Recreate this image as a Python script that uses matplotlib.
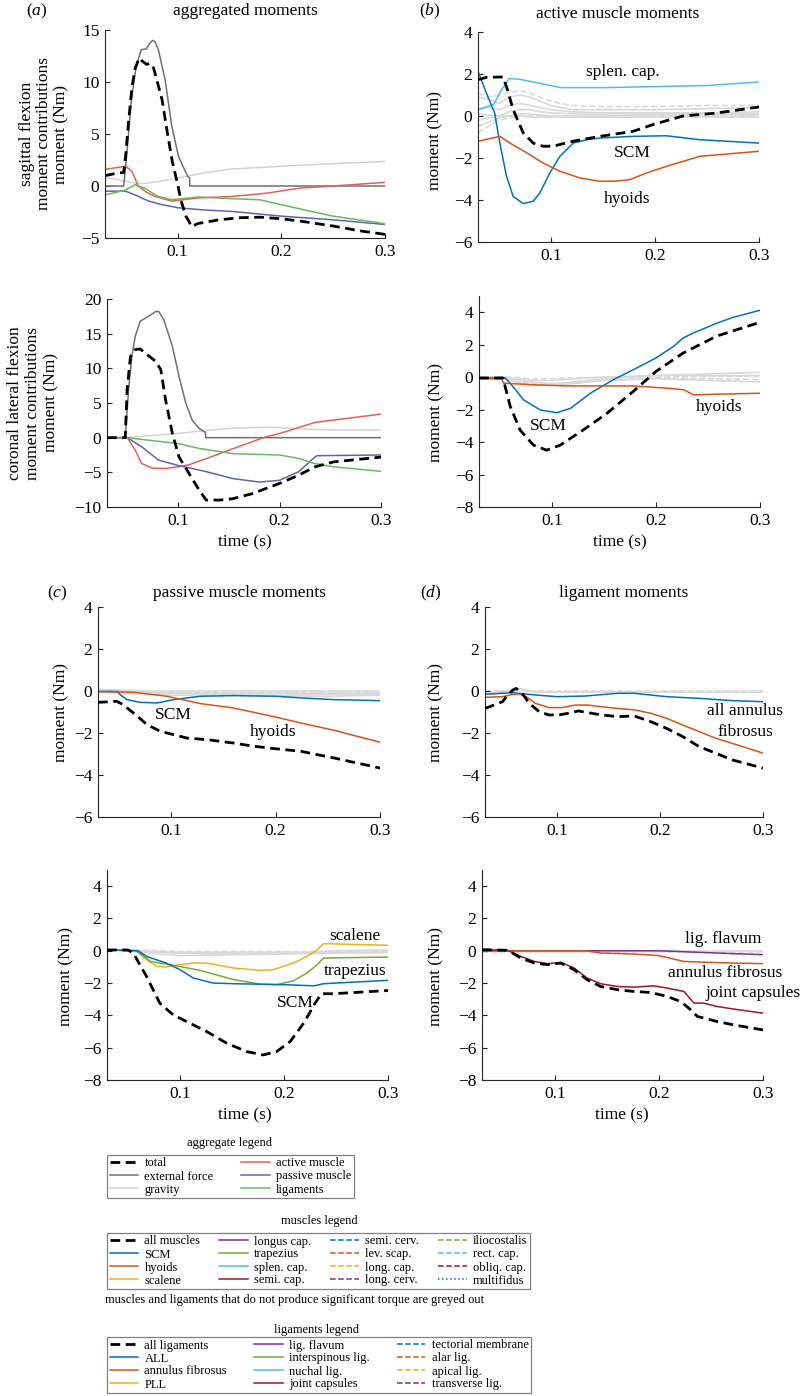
import matplotlib
matplotlib.use('Agg')
import matplotlib.pyplot as plt
from matplotlib.lines import Line2D

plt.rcParams['font.family'] = ['Liberation Serif', 'DejaVu Serif']
plt.rcParams['mathtext.fontset'] = 'custom'
plt.rcParams['mathtext.it'] = 'Liberation Serif:italic'
plt.rcParams['mathtext.rm'] = 'Liberation Serif'

W, H = 800, 1396
T0, T1 = 0.03, 0.3
FS = 12.5
LFS = 9

# colours
C_EXT = '#707070'
C_GRAV = '#d4d4d4'
C_ACT = '#e0625a'
C_PAS = '#6064b0'
C_LIG = '#66bb5f'
C_GREY = '#d9d9d9'
C_SCM = '#0072bd'
C_HYO = '#d95319'
C_SCA = '#edb120'
C_LON = '#7e2f8e'
C_TRA = '#77ac30'
C_SPL = '#4dbeee'
C_SEM = '#a2142f'

# ---- (a) aggregated, sagittal
sag_total_t = [0.03, 0.04, 0.048, 0.050, 0.053, 0.056, 0.059, 0.063, 0.066, 0.070, 0.074, 0.077,
               0.085, 0.090, 0.095, 0.100, 0.103, 0.108, 0.111, 0.113, 0.120, 0.140, 0.160, 0.180,
               0.200, 0.220, 0.250, 0.275, 0.300]
sag_total_v = [1.0, 1.2, 1.3, 3.0, 6.5, 9.5, 11.3, 12.3, 12.0, 11.7, 11.8, 11.3,
               8.3, 5.2, 2.3, 0.2, -1.3, -2.9, -3.4, -3.9, -3.6, -3.25, -3.05, -3.0,
               -3.15, -3.4, -3.85, -4.3, -4.65]
sag_ext_t = [0.03, 0.048, 0.0505, 0.0555, 0.060, 0.065, 0.070, 0.073, 0.0757, 0.078, 0.0815,
             0.088, 0.0945, 0.101, 0.1075, 0.110, 0.1115, 0.1118, 0.3]
sag_ext_v = [0, 0, 2.5, 8.3, 11.5, 13.1, 13.2, 13.7, 14.0, 13.9, 13.1,
             10.2, 5.7, 2.8, 1.4, 0.9, 0.8, 0, 0]
sag_grav_t = [0.03, 0.045, 0.055, 0.065, 0.08, 0.1, 0.125, 0.15, 0.2, 0.25, 0.3]
sag_grav_v = [0.8, 0.55, 0.35, 0.22, 0.4, 0.76, 1.25, 1.62, 1.9, 2.15, 2.36]
sag_act_t = [0.03, 0.04, 0.05, 0.056, 0.062, 0.07, 0.078, 0.0945, 0.12, 0.153, 0.185, 0.218, 0.25, 0.3]
sag_act_v = [1.6, 1.75, 1.9, 1.4, 0.0, -0.6, -1.0, -1.45, -1.15, -1.0, -0.7, -0.2, 0.0, 0.35]
sag_pas_t = [0.03, 0.05, 0.06, 0.072, 0.085, 0.101, 0.125, 0.153, 0.2, 0.25, 0.3]
sag_pas_v = [-0.5, -0.5, -0.9, -1.45, -1.8, -2.1, -2.3, -2.45, -2.9, -3.25, -3.7]
sag_lig_t = [0.03, 0.049, 0.059, 0.068, 0.081, 0.0945, 0.12, 0.153, 0.179, 0.2, 0.218, 0.25, 0.3]
sag_lig_v = [-0.85, -0.42, 0.12, -0.2, -1.0, -1.32, -1.06, -1.22, -1.32, -1.8, -2.2, -2.9, -3.62]

# ---- (a) aggregated, coronal
cor_ext_t = [0.03, 0.048, 0.0512, 0.0545, 0.0578, 0.0627, 0.068, 0.073, 0.078, 0.081, 0.086,
             0.0944, 0.101, 0.1076, 0.114, 0.1208, 0.1257, 0.127, 0.1272, 0.3]
cor_ext_v = [0, 0, 6.9, 11.7, 14.6, 16.8, 17.25, 17.7, 18.2, 18.2, 17.0,
             13.2, 8.8, 5.0, 2.5, 1.33, 0.85, 0.8, 0, 0]
cor_total_t = [0.03, 0.048, 0.0498, 0.0531, 0.0578, 0.0627, 0.0677, 0.078, 0.083, 0.0878, 0.0944,
               0.101, 0.111, 0.121, 0.1277, 0.141, 0.154, 0.1726, 0.2, 0.219, 0.235, 0.253, 0.3]
cor_total_v = [0, 0, 6.9, 11.7, 12.7, 12.8, 12.2, 11.0, 9.8, 5.4, 0.6,
               -2.8, -5.2, -7.6, -9.0, -9.0, -8.8, -8.1, -6.6, -5.4, -4.2, -3.5, -2.8]
cor_grav_t = [0.03, 0.048, 0.07, 0.1, 0.125, 0.15, 0.185, 0.2, 0.23, 0.26, 0.3]
cor_grav_v = [0, 0, 0.25, 0.6, 1.0, 1.33, 1.5, 1.45, 1.2, 1.1, 1.1]
cor_act_t = [0.03, 0.05, 0.0578, 0.064, 0.0746, 0.0878, 0.1, 0.111, 0.13, 0.154, 0.186, 0.2, 0.235, 0.3]
cor_act_v = [0, 0, -1.8, -3.7, -4.4, -4.45, -4.2, -3.9, -2.9, -1.6, 0.1, 0.6, 2.2, 3.4]
cor_pas_t = [0.03, 0.05, 0.064, 0.081, 0.1, 0.1277, 0.154, 0.18, 0.2, 0.219, 0.234, 0.237, 0.3]
cor_pas_v = [0, 0, -1.3, -3.25, -4.0, -4.9, -5.9, -6.4, -6.15, -4.9, -2.9, -2.6, -2.5]
cor_lig_t = [0.03, 0.05, 0.07, 0.1, 0.121, 0.154, 0.2, 0.219, 0.234, 0.253, 0.3]
cor_lig_v = [0, 0, -0.35, -0.84, -1.56, -2.3, -2.5, -3.0, -3.7, -4.2, -4.85]

# ---- (b) active muscles, sagittal
bs_total_t = [0.03, 0.038, 0.054, 0.058, 0.0638, 0.0734, 0.083, 0.0926, 0.102, 0.1215, 0.147,
              0.179, 0.198, 0.227, 0.259, 0.3]
bs_total_v = [1.73, 1.84, 1.86, 1.3, 0.3, -0.8, -1.29, -1.44, -1.44, -1.2, -0.97,
              -0.73, -0.41, 0.0, 0.14, 0.43]
bs_scm_t = [0.03, 0.038, 0.046, 0.051, 0.0574, 0.0638, 0.0734, 0.083, 0.0894, 0.099, 0.1087,
            0.1215, 0.1343, 0.147, 0.179, 0.211, 0.243, 0.3]
bs_scm_v = [2.13, 1.1, 0.14, -1.29, -2.87, -3.83, -4.17, -4.06, -3.67, -2.71, -1.92,
            -1.29, -1.13, -1.05, -0.97, -0.94, -1.13, -1.29]
bs_spl_t = [0.03, 0.045, 0.052, 0.06, 0.07, 0.09, 0.11, 0.15, 0.2, 0.25, 0.3]
bs_spl_v = [0.3, 0.55, 1.2, 1.78, 1.75, 1.55, 1.35, 1.35, 1.4, 1.45, 1.62]
bs_hyo_t = [0.03, 0.051, 0.061, 0.077, 0.0926, 0.1087, 0.128, 0.147, 0.163, 0.176, 0.192, 0.211, 0.243, 0.3]
bs_hyo_v = [-1.2, -0.97, -1.3, -1.76, -2.24, -2.63, -2.95, -3.11, -3.1, -3.03, -2.71, -2.4, -1.92, -1.68]
bs_grey_t = [0.03, 0.04, 0.05, 0.06, 0.07, 0.08, 0.09, 0.1, 0.12, 0.15, 0.2, 0.25, 0.3]
bs_grey_v = [
    [1.1, 0.9, 1.0, 1.1, 1.2, 1.1, 0.9, 0.7, 0.5, 0.45, 0.45, 0.5, 0.5],
    [0.9, 0.8, 0.6, 0.9, 1.0, 0.9, 0.7, 0.5, 0.3, 0.3, 0.3, 0.35, 0.4],
    [0.3, 0.4, 0.3, 0.5, 0.6, 0.5, 0.4, 0.3, 0.2, 0.15, 0.15, 0.15, 0.2],
    [-0.2, -0.1, 0.0, 0.2, 0.3, 0.3, 0.2, 0.15, 0.1, 0.1, 0.1, 0.1, 0.1],
    [-0.5, -0.3, -0.1, 0.0, 0.1, 0.1, 0.05, 0.0, 0.0, 0.0, 0.05, 0.05, 0.05],
    [-0.8, -0.5, -0.2, -0.1, 0.0, 0.0, 0.0, 0.0, -0.05, -0.05, 0.0, 0.0, 0.0],
    [0.1, 0.05, 0.0, 0.0, 0.0, -0.05, -0.05, -0.05, -0.05, -0.05, -0.05, -0.05, -0.05],
]
bs_grey_dash = [True, False, False, False, False, True, False]

# ---- (b) active muscles, coronal
bc_total_t = [0.03, 0.053, 0.06, 0.0695, 0.0824, 0.095, 0.108, 0.13, 0.153, 0.178, 0.2, 0.226, 0.258, 0.3]
bc_total_v = [-0.05, -0.05, -1.8, -3.26, -4.19, -4.5, -4.19, -3.26, -2.23, -0.89, 0.35, 1.48, 2.52, 3.38]
bc_scm_t = [0.03, 0.055, 0.06, 0.0728, 0.0888, 0.105, 0.118, 0.137, 0.159, 0.178, 0.2, 0.217,
            0.226, 0.236, 0.259, 0.275, 0.3]
bc_scm_v = [-0.05, -0.05, -0.37, -1.4, -2.02, -2.19, -1.92, -0.99, -0.16, 0.45, 1.18, 1.9,
            2.41, 2.72, 3.34, 3.7, 4.12]
bc_hyo_t = [0.03, 0.052, 0.0535, 0.0824, 0.114, 0.178, 0.211, 0.227, 0.236, 0.259, 0.3]
bc_hyo_v = [-0.1, -0.1, -0.37, -0.47, -0.54, -0.54, -0.68, -0.78, -1.09, -1.05, -0.99]
bc_grey_t = [0.03, 0.05, 0.06, 0.08, 0.1, 0.12, 0.15, 0.2, 0.25, 0.3]
bc_grey_v = [
    [0, 0, -0.2, -0.5, -0.5, -0.4, -0.2, -0.1, -0.2, -0.3],
    [0, 0, -0.1, -0.3, -0.4, -0.3, -0.1, 0.1, 0.2, 0.3],
    [0, 0, -0.05, -0.2, -0.2, -0.1, 0.0, 0.1, 0.1, 0.1],
    [0, 0, 0, -0.1, -0.1, -0.05, 0.0, 0.0, 0.05, 0.05],
    [0, 0, -0.1, -0.4, -0.45, -0.35, -0.2, -0.05, -0.1, -0.15],
]
bc_grey_dash = [False, False, False, True, True]

# ---- (c) passive muscles, sagittal
cs_total_t = [0.03, 0.048, 0.054, 0.064, 0.077, 0.0897, 0.1026, 0.115, 0.135, 0.16, 0.179, 0.2,
              0.224, 0.256, 0.3]
cs_total_v = [-0.54, -0.49, -0.65, -1.05, -1.6, -1.92, -2.08, -2.24, -2.32, -2.48, -2.63, -2.75,
              -2.87, -3.19, -3.67]
cs_scm_t = [0.03, 0.049, 0.051, 0.0577, 0.0705, 0.0865, 0.1026, 0.128, 0.16, 0.2, 0.224, 0.256, 0.3]
cs_scm_v = [-0.02, -0.02, -0.17, -0.41, -0.54, -0.57, -0.41, -0.25, -0.22, -0.25, -0.33, -0.41, -0.46]
cs_hyo_t = [0.03, 0.064, 0.096, 0.128, 0.16, 0.2, 0.224, 0.256, 0.3]
cs_hyo_v = [-0.03, -0.06, -0.25, -0.6, -0.81, -1.24, -1.52, -1.87, -2.44]
cs_grey_t = [0.03, 0.05, 0.08, 0.1, 0.15, 0.2, 0.25, 0.3]
cs_grey_v = [
    [0.05, 0.05, 0.0, 0.0, 0.0, 0.0, 0.0, 0.0],
    [0.0, 0.0, -0.1, -0.1, -0.1, -0.1, -0.1, -0.1],
    [-0.05, -0.1, -0.15, -0.2, -0.2, -0.2, -0.15, -0.15],
    [0.0, -0.05, -0.05, -0.05, -0.05, -0.05, -0.05, -0.05],
    [0.1, 0.0, -0.05, -0.1, -0.15, -0.25, -0.25, -0.2],
]
cs_grey_dash = [False, False, False, True, False]

# ---- (c) passive muscles, coronal
cc_total_t = [0.03, 0.05, 0.0552, 0.068, 0.0807, 0.0936, 0.1064, 0.1257, 0.145, 0.164, 0.18,
              0.193, 0.206, 0.219, 0.23, 0.236, 0.2475, 0.3]
cc_total_v = [0.05, 0.05, -0.14, -1.59, -3.24, -3.97, -4.38, -5.0, -5.72, -6.24, -6.45,
              -6.24, -5.62, -4.48, -3.24, -2.66, -2.66, -2.46]
cc_scm_t = [0.03, 0.06, 0.068, 0.087, 0.1, 0.113, 0.132, 0.152, 0.2, 0.229, 0.238, 0.3]
cc_scm_v = [0.05, 0.0, -0.35, -0.76, -1.17, -1.69, -2.0, -2.04, -2.1, -2.17, -2.04, -1.83]
cc_sca_t = [0.03, 0.058, 0.068, 0.078, 0.087, 0.1, 0.113, 0.1257, 0.152, 0.177, 0.19, 0.209,
            0.222, 0.232, 0.238, 0.3]
cc_sca_v = [0.05, 0.0, -0.56, -0.97, -1.0, -0.86, -0.76, -0.76, -1.07, -1.21, -1.17, -0.76,
            -0.35, 0.06, 0.44, 0.34]
cc_tra_t = [0.03, 0.058, 0.072, 0.1, 0.119, 0.152, 0.177, 0.193, 0.209, 0.222, 0.232, 0.238, 0.3]
cc_tra_v = [0.05, 0.0, -0.66, -0.97, -1.21, -1.79, -2.06, -2.1, -1.86, -1.38, -0.86, -0.45, -0.39]
cc_grey_t = [0.03, 0.05, 0.08, 0.1, 0.15, 0.2, 0.25, 0.3]
cc_grey_v = [
    [0.05, 0.05, -0.05, -0.1, -0.1, -0.1, -0.1, -0.1],
    [0.05, 0.05, -0.2, -0.3, -0.25, -0.2, -0.15, -0.1],
    [0.05, 0.05, -0.1, -0.15, -0.2, -0.2, 0.0, 0.05],
    [0.05, 0.05, 0.0, -0.05, -0.05, -0.05, -0.05, -0.05],
]
cc_grey_dash = [False, False, False, True]

# ---- (d) ligaments, sagittal
ds_total_t = [0.03, 0.047, 0.052, 0.057, 0.06, 0.065, 0.073, 0.0825, 0.092, 0.1016, 0.111, 0.1207,
              0.13, 0.143, 0.159, 0.175, 0.191, 0.2064, 0.222, 0.238, 0.254, 0.27, 0.3]
ds_total_v = [-0.83, -0.51, -0.19, 0.04, 0.12, -0.03, -0.59, -0.98, -1.14, -1.14, -1.06, -0.95,
              -1.03, -1.14, -1.22, -1.19, -1.46, -1.78, -2.17, -2.65, -2.96, -3.28, -3.67]
ds_ann_t = [0.03, 0.047, 0.057, 0.063, 0.07, 0.079, 0.092, 0.105, 0.1175, 0.13, 0.143, 0.159,
            0.175, 0.191, 0.2064, 0.222, 0.238, 0.254, 0.27, 0.3]
ds_ann_v = [-0.3, -0.27, -0.16, -0.14, -0.27, -0.59, -0.79, -0.79, -0.67, -0.67, -0.75, -0.83,
            -0.9, -1.06, -1.3, -1.62, -1.93, -2.25, -2.49, -2.96]
ds_all_t = [0.03, 0.057, 0.079, 0.1, 0.127, 0.159, 0.175, 0.2064, 0.238, 0.27, 0.3]
ds_all_v = [-0.16, -0.08, -0.19, -0.27, -0.24, -0.11, -0.11, -0.27, -0.35, -0.46, -0.51]
ds_grey_t = [0.03, 0.05, 0.06, 0.065, 0.07, 0.08, 0.1, 0.2, 0.3]
ds_grey_v = [
    [-0.05, 0.0, 0.15, 0.1, 0.0, -0.05, -0.05, -0.05, -0.05],
    [-0.1, -0.05, 0.05, 0.1, 0.05, -0.05, -0.05, -0.05, -0.05],
    [0.0, 0.0, 0.05, 0.05, 0.0, 0.0, 0.0, 0.0, 0.0],
]
ds_grey_dash = [False, False, True]

# ---- (d) ligaments, coronal
dc_total_t = [0.03, 0.0546, 0.0674, 0.0802, 0.093, 0.1058, 0.1185, 0.131, 0.144, 0.16, 0.176,
              0.192, 0.208, 0.221, 0.2306, 0.237, 0.256, 0.272, 0.3]
dc_total_v = [0.07, 0.03, -0.45, -0.76, -0.86, -0.76, -1.17, -1.79, -2.21, -2.41, -2.52,
              -2.58, -2.83, -3.14, -3.66, -4.07, -4.38, -4.59, -4.9]
dc_jc_t = [0.03, 0.0546, 0.0674, 0.0802, 0.093, 0.1058, 0.1185, 0.131, 0.144, 0.16, 0.176,
           0.195, 0.208, 0.224, 0.2336, 0.243, 0.256, 0.272, 0.3]
dc_jc_v = [0.07, 0.03, -0.35, -0.66, -0.8, -0.72, -1.07, -1.69, -2.04, -2.21, -2.25,
           -2.17, -2.31, -2.52, -3.24, -3.24, -3.45, -3.61, -3.86]
dc_ann_t = [0.03, 0.13, 0.144, 0.176, 0.2, 0.214, 0.224, 0.24, 0.272, 0.3]
dc_ann_v = [0, 0, -0.14, -0.2, -0.3, -0.51, -0.66, -0.7, -0.76, -0.8]
dc_flav_t = [0.03, 0.2, 0.24, 0.272, 0.3]
dc_flav_v = [0, 0, -0.1, -0.18, -0.24]
dc_grey_t = [0.03, 0.1, 0.2, 0.3]
dc_grey_v = [[0, 0, 0, 0], [-0.05, -0.05, -0.05, -0.05]]
dc_grey_dash = [False, True]

# legends
agg_labels = ['total', 'external force', 'gravity', 'active muscle', 'passive muscle', 'ligaments']
mus_labels = ['all muscles', 'SCM', 'hyoids', 'scalene',
              'longus cap.', 'trapezius', 'splen. cap.', 'semi. cap.',
              'semi. cerv.', 'lev. scap.', 'long. cap.', 'long. cerv.',
              'iliocostalis', 'rect. cap.', 'obliq. cap.', 'multifidus']
lig_labels = ['all ligaments', 'ALL', 'annulus fibrosus', 'PLL',
              'lig. flavum', 'interspinous lig.', 'nuchal lig.', 'joint capsules',
              'tectorial membrane', 'alar lig.', 'apical lig.', 'transverse lig.']


fig = plt.figure(figsize=(W / 100, H / 100), dpi=100)


def px_axes(l, r, t, b):
    return fig.add_axes([l / W, 1 - b / H, (r - l) / W, (b - t) / H])


def ftext(x, y, s, **kw):
    kw.setdefault('fontsize', FS)
    kw.setdefault('ha', 'center')
    kw.setdefault('va', 'center')
    fig.text(x / W, 1 - y / H, s, **kw)


def style(ax, ylim, yticks):
    ax.set_xlim(T0, T1)
    ax.set_ylim(*ylim)
    ax.set_xticks([0.1, 0.2, 0.3])
    ax.set_yticks(yticks)
    for s in ['top', 'right']:
        ax.spines[s].set_visible(False)
    for s in ['left', 'bottom']:
        ax.spines[s].set_color('#262626')
        ax.spines[s].set_linewidth(0.8)
    ax.tick_params(direction='in', length=3.5, width=0.8, labelsize=FS, color='#262626', pad=4)


def total(ax, t, v):
    ax.plot(t, v, color='black', lw=2.0, ls=(0, (3.5, 2)), zorder=5)


def greys(ax, t, vs, dashes):
    for v, d in zip(vs, dashes):
        ax.plot(t, v, color=C_GREY, lw=1.2, ls='--' if d else '-', zorder=1)


# (a) top
ax = px_axes(105, 385, 30, 238)
ax.plot(sag_grav_t, sag_grav_v, color=C_GRAV, lw=1.1)
ax.plot(sag_ext_t, sag_ext_v, color=C_EXT, lw=1.1)
ax.plot(sag_act_t, sag_act_v, color=C_ACT, lw=1.1)
ax.plot(sag_pas_t, sag_pas_v, color=C_PAS, lw=1.1)
ax.plot(sag_lig_t, sag_lig_v, color=C_LIG, lw=1.1)
total(ax, sag_total_t, sag_total_v)
style(ax, (-5, 15), [-5, 0, 5, 10, 15])
ftext(44, 134, 'sagittal flexion\nmoment contributions\nmoment (Nm)', rotation=90, linespacing=1.1)
ftext(245, 11, 'aggregated moments')
ftext(37, 11, r'($\mathit{a}$)')

# (a) bottom
ax = px_axes(107, 381, 299, 507)
ax.plot(cor_grav_t, cor_grav_v, color=C_GRAV, lw=1.1)
ax.plot(cor_ext_t, cor_ext_v, color=C_EXT, lw=1.1)
ax.plot(cor_act_t, cor_act_v, color=C_ACT, lw=1.1)
ax.plot(cor_pas_t, cor_pas_v, color=C_PAS, lw=1.1)
ax.plot(cor_lig_t, cor_lig_v, color=C_LIG, lw=1.1)
total(ax, cor_total_t, cor_total_v)
style(ax, (-10, 20), [-10, -5, 0, 5, 10, 15, 20])
ftext(33, 403, 'coronal lateral flexion\nmoment contributions\nmoment (Nm)', rotation=90, linespacing=1.2)
ftext(245, 542, 'time (s)')

# (b) top
ax = px_axes(478, 759, 32, 242)
greys(ax, bs_grey_t, bs_grey_v, bs_grey_dash)
ax.plot(bs_spl_t, bs_spl_v, color=C_SPL, lw=1.1)
ax.plot(bs_scm_t, bs_scm_v, color=C_SCM, lw=1.1)
ax.plot(bs_hyo_t, bs_hyo_v, color=C_HYO, lw=1.1)
total(ax, bs_total_t, bs_total_v)
style(ax, (-6, 4), [-6, -4, -2, 0, 2, 4])
ftext(435, 140, 'moment (Nm)', rotation=90)
ftext(618, 14, 'active muscle moments')
ftext(430, 11, r'($\mathit{b}$)')
ftext(623, 72, 'splen. cap.')
ftext(632, 153, 'SCM')
ftext(627, 199, 'hyoids')

# (b) bottom
ax = px_axes(479, 760, 296, 507)
greys(ax, bc_grey_t, bc_grey_v, bc_grey_dash)
ax.plot(bc_scm_t, bc_scm_v, color=C_SCM, lw=1.1)
ax.plot(bc_hyo_t, bc_hyo_v, color=C_HYO, lw=1.1)
total(ax, bc_total_t, bc_total_v)
style(ax, (-8, 5), [-8, -6, -4, -2, 0, 2, 4])
ftext(436, 413, 'moment (Nm)', rotation=90)
ftext(620, 542, 'time (s)')
ftext(719, 407, 'hyoids')
ftext(548, 426, 'SCM')

# (c) top
ax = px_axes(98, 380, 607, 817)
greys(ax, cs_grey_t, cs_grey_v, cs_grey_dash)
ax.plot(cs_scm_t, cs_scm_v, color=C_SCM, lw=1.1)
ax.plot(cs_hyo_t, cs_hyo_v, color=C_HYO, lw=1.1)
total(ax, cs_total_t, cs_total_v)
style(ax, (-6, 4), [-6, -4, -2, 0, 2, 4])
ftext(61, 713, 'moment (Nm)', rotation=90)
ftext(239, 593, 'passive muscle moments')
ftext(57, 593, r'($\mathit{c}$)')
ftext(173, 715, 'SCM')
ftext(273, 732, 'hyoids')

# (c) bottom
ax = px_axes(107, 388, 870, 1080)
greys(ax, cc_grey_t, cc_grey_v, cc_grey_dash)
ax.plot(cc_sca_t, cc_sca_v, color=C_SCA, lw=1.1)
ax.plot(cc_tra_t, cc_tra_v, color=C_TRA, lw=1.1)
ax.plot(cc_scm_t, cc_scm_v, color=C_SCM, lw=1.1)
total(ax, cc_total_t, cc_total_v)
style(ax, (-8, 5), [-8, -6, -4, -2, 0, 2, 4])
ftext(66, 977, 'moment (Nm)', rotation=90)
ftext(245, 1115, 'time (s)')
ftext(355, 936, 'scalene')
ftext(355, 971, 'trapezius')
ftext(295, 1003, 'SCM')

# (d) top
ax = px_axes(485, 763, 607, 817)
greys(ax, ds_grey_t, ds_grey_v, ds_grey_dash)
ax.plot(ds_all_t, ds_all_v, color=C_SCM, lw=1.1)
ax.plot(ds_ann_t, ds_ann_v, color=C_HYO, lw=1.1)
total(ax, ds_total_t, ds_total_v)
style(ax, (-6, 4), [-6, -4, -2, 0, 2, 4])
ftext(436, 713, 'moment (Nm)', rotation=90)
ftext(624, 593, 'ligament moments')
ftext(431, 593, r'($\mathit{d}$)')
ftext(745, 711, 'all annulus')
ftext(745, 732, 'fibrosus')

# (d) bottom
ax = px_axes(482, 763, 870, 1080)
greys(ax, dc_grey_t, dc_grey_v, dc_grey_dash)
ax.plot(dc_flav_t, dc_flav_v, color=C_LON, lw=1.1)
ax.plot(dc_ann_t, dc_ann_v, color=C_HYO, lw=1.1)
ax.plot(dc_jc_t, dc_jc_v, color=C_SEM, lw=1.1)
total(ax, dc_total_t, dc_total_v)
style(ax, (-8, 5), [-8, -6, -4, -2, 0, 2, 4])
ftext(436, 977, 'moment (Nm)', rotation=90)
ftext(622, 1115, 'time (s)')
ftext(723, 939, 'lig. flavum')
ftext(725, 973, 'annulus fibrosus')
ftext(753, 993, 'joint capsules')


# legends
def h(c, ls='-', lw=1.1):
    return Line2D([], [], color=c, ls=ls, lw=lw)


tot_h = h('black', (0, (3.5, 2)), 2.0)
agg_h = [tot_h, h(C_EXT), h(C_GRAV), h(C_ACT), h(C_PAS), h(C_LIG)]
mus_h = [tot_h, h(C_SCM), h(C_HYO), h(C_SCA),
         h(C_LON), h(C_TRA), h(C_SPL), h(C_SEM),
         h(C_SCM, '--'), h(C_HYO, '--'), h(C_SCA, '--'), h(C_LON, '--'),
         h(C_TRA, '--'), h(C_SPL, '--'), h(C_SEM, '--'), h(C_SCM, ':')]
lig_h = [tot_h, h(C_SCM), h(C_HYO), h(C_SCA),
         h(C_LON), h(C_TRA), h(C_SPL), h(C_SEM),
         h(C_SCM, '--'), h(C_HYO, '--'), h(C_SCA, '--'), h(C_LON, '--')]


def legend(handles, labels, ncol, l, r, t):
    lg = fig.legend(handles, labels, ncol=ncol, loc='upper left', mode='expand',
                    bbox_to_anchor=(l / W, 1 - t / H, (r - l) / W, 0), borderaxespad=0,
                    fontsize=LFS, frameon=True, fancybox=False, edgecolor='#808080',
                    framealpha=1, borderpad=0.2, labelspacing=0.08, handlelength=2.3,
                    handletextpad=0.5, columnspacing=0.8)
    lg.get_frame().set_linewidth(0.9)
    return lg


ftext(230, 1143, 'aggregate legend', fontsize=LFS)
legend(agg_h, agg_labels, 2, 107, 354, 1155)
ftext(319, 1221, 'muscles legend', fontsize=LFS)
legend(mus_h, mus_labels, 4, 107, 530, 1233)
ftext(105, 1300, 'muscles and ligaments that do not produce significant torque are greyed out',
      fontsize=LFS, ha='left')
ftext(316, 1330, 'ligaments legend', fontsize=LFS)
legend(lig_h, lig_labels, 3, 107, 531, 1337)

fig.savefig('out.png', dpi=100)
